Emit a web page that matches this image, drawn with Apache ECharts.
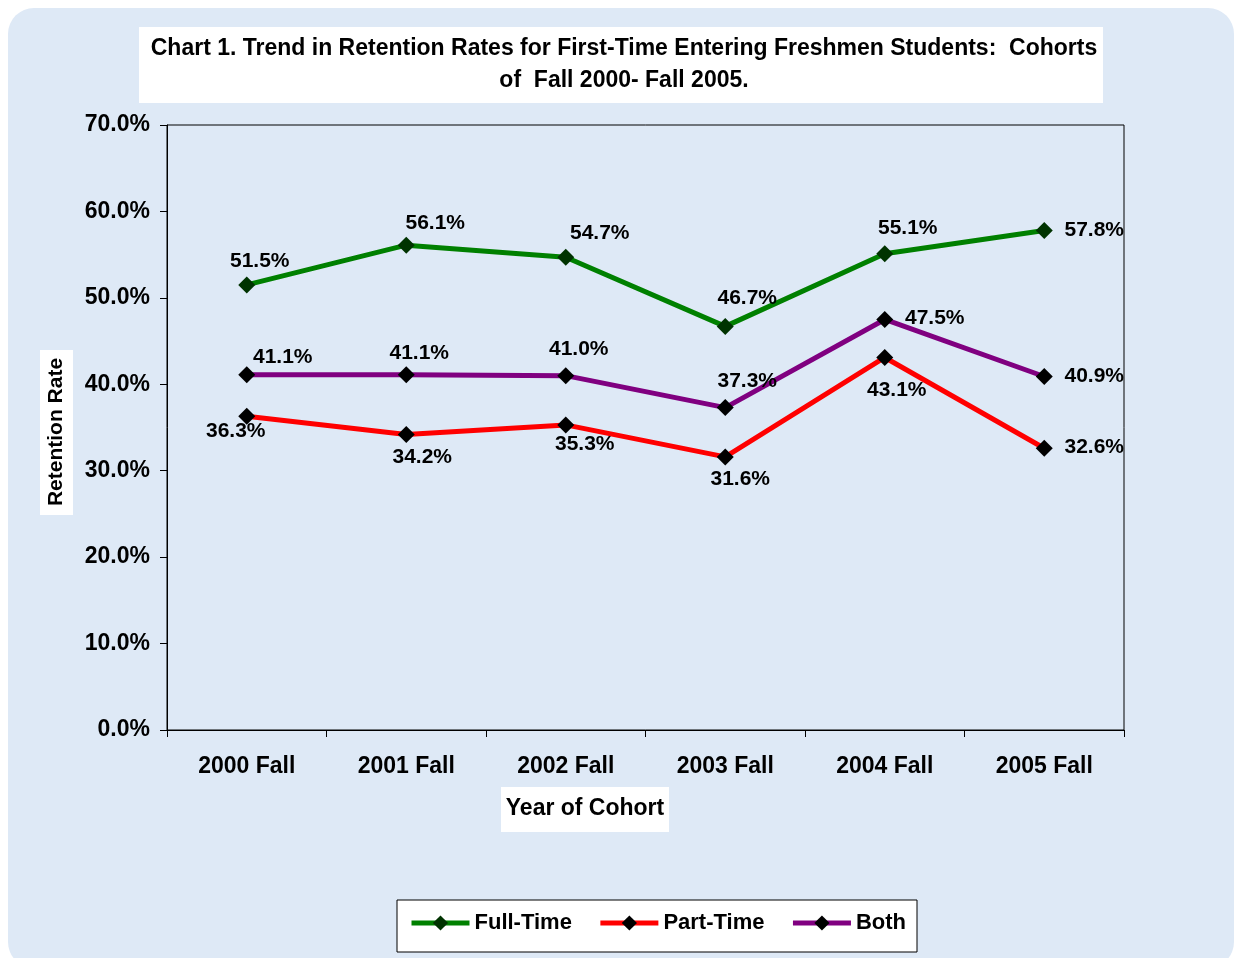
<!DOCTYPE html>
<html><head><meta charset="utf-8">
<script src="https://cdn.jsdelivr.net/npm/echarts@6/dist/echarts.min.js"></script>
<style>html,body{margin:0;padding:0;background:#fff;}#c{width:1235px;height:958px;}</style>
</head><body><div id="c"></div>
<script>
const categories = ['2000 Fall','2001 Fall','2002 Fall','2003 Fall','2004 Fall','2005 Fall'];
const fullTime = [51.5, 56.1, 54.7, 46.7, 55.1, 57.8];
const partTime = [36.3, 34.2, 35.3, 31.6, 43.1, 32.6];
const both = [41.1, 41.1, 41.0, 37.3, 47.5, 40.9];
const seriesNames = ['Full-Time','Part-Time','Both'];
const titleText = 'Chart 1. Trend in Retention Rates for First-Time Entering Freshmen Students:  Cohorts\nof  Fall 2000- Fall 2005.';
const xName = 'Year of Cohort';
const yName = 'Retention Rate';

// label placement (style only)
const offFT = [[13,-24],[29,-22],[34,-24],[22,-28],[23,-26],[50,0]];
const offPT = [[-11,15],[16,23],[19,19],[15,22],[12,33],[50,-1]];
const offBoth = [[36,-18],[13,-22],[13,-26],[22,-26],[50,-1],[50,0]];

const FONT = '"Liberation Sans", Arial, sans-serif';
function mk(vals, offs){
  return vals.map((v,i)=>({value:v, label:{offset:offs[i]}}));
}
function ser(name, vals, offs, color, markColor){
  return {
    name, type:'line', data: mk(vals, offs),
    symbol:'diamond', symbolSize:17,
    lineStyle:{color, width:5},
    itemStyle:{color:markColor, borderWidth:0},
    label:{show:true, position:'inside', formatter:p=>p.value.toFixed(1)+'%',
      color:'#000', fontFamily:FONT, fontWeight:'bold', fontSize:21},
    emphasis:{disabled:true}, animation:false, z:3
  };
}
const chart = echarts.init(document.getElementById('c'), null, {renderer:'canvas'});
chart.setOption({
  animation:false,
  backgroundColor:'#ffffff',
  graphic:[
    {type:'rect', z:-10, shape:{x:8,y:8,width:1226,height:960,r:26}, style:{fill:'#dee9f6'}},
    {type:'rect', z:-9, shape:{x:139,y:27,width:964,height:76}, style:{fill:'#ffffff'}},
    {type:'rect', z:-9, shape:{x:397,y:900,width:520,height:52}, style:{fill:'#ffffff', stroke:'#000', lineWidth:1}},
    {type:'rect', z:4, shape:{x:501,y:787,width:168,height:45}, style:{fill:'#ffffff'}},
    {type:'text', z:5, x:585, y:809, style:{text:xName, font:'bold 23px '+FONT, fill:'#000', align:'center', verticalAlign:'middle'}},
    {type:'rect', z:4, shape:{x:40,y:350,width:33,height:165}, style:{fill:'#ffffff'}},
    {type:'text', z:5, x:56, y:432, rotation:Math.PI/2, style:{text:yName, font:'bold 21px '+FONT, fill:'#000', align:'center', verticalAlign:'middle'}}
  ],
  title:{
    text:titleText,
    left:619, top:28, textAlign:'center',
    textStyle:{fontFamily:FONT, fontWeight:'bold', fontSize:23, lineHeight:32, color:'#000'}
  },
  grid:{left:167, right:111, top:125, bottom:228, show:true, borderColor:'#000', borderWidth:1, backgroundColor:'transparent', containLabel:false},
  legend:{
    data:seriesNames, left:404, top:907, itemWidth:58, itemHeight:19, itemGap:26,
    lineStyle:{width:5},
    textStyle:{fontFamily:FONT, fontWeight:'bold', fontSize:22, color:'#000'},
    selectedMode:false
  },
  xAxis:{
    type:'category', data:categories, boundaryGap:true,
    axisLine:{lineStyle:{color:'#000', width:1}},
    axisTick:{show:true, length:7, alignWithLabel:false, lineStyle:{color:'#000'}},
    axisLabel:{fontFamily:FONT, fontWeight:'bold', fontSize:23, color:'#000', margin:25},
    splitLine:{show:false}
  },
  yAxis:{
    type:'value', min:0, max:70, interval:10,
    axisLine:{show:true, lineStyle:{color:'#000', width:1}},
    axisTick:{show:true, length:7, lineStyle:{color:'#000'}},
    axisLabel:{fontFamily:FONT, fontWeight:'bold', fontSize:23, color:'#000', margin:17, formatter:v=>v.toFixed(1)+'%'},
    splitLine:{show:false}
  },
  series:[
    ser(seriesNames[0], fullTime, offFT, '#008000', '#003300'),
    ser(seriesNames[1], partTime, offPT, '#ff0000', '#000000'),
    ser(seriesNames[2], both, offBoth, '#800080', '#000000')
  ]
});
</script></body></html>
